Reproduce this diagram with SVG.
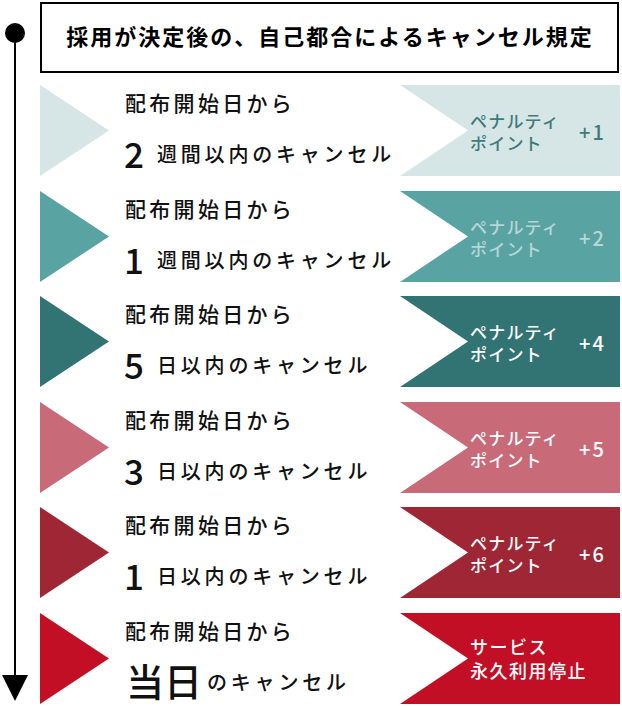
<svg xmlns="http://www.w3.org/2000/svg" width="622" height="706" viewBox="0 0 622 706">
<style>
text{font-family:"Noto Sans CJK JP","Noto Sans",sans-serif;}
.title{font-size:22px;font-weight:bold;letter-spacing:2px;fill:#000;}
.l1{font-size:21px;letter-spacing:3.3px;font-weight:500;fill:#111;}
.l2{font-size:20px;letter-spacing:3.8px;font-weight:500;fill:#111;}
.num{font-size:35px;font-weight:500;fill:#111;}
.big{font-size:38px;font-weight:500;fill:#111;}
.b{font-size:17px;letter-spacing:1.2px;font-weight:500;}
.p{font-size:20px;letter-spacing:2px;font-weight:500;}
.b6{font-size:18px;letter-spacing:1.5px;font-weight:500;}
</style>
<defs>
<polygon id="tri" points="40,0 109,45.5 40,91"/>
<polygon id="ban" points="400,0 620,0 620,91 400,91 468,45.5"/>
</defs>
<g id="timeline">
<circle cx="15" cy="33" r="10" fill="#000"/>
<line x1="15" y1="33" x2="15" y2="677" stroke="#000" stroke-width="2"/>
<polygon points="2,675 28,675 15,701" fill="#000"/>
</g>
<g id="title">
<rect x="41" y="3" width="577" height="69" fill="#fff" stroke="#000" stroke-width="2"/>
<text class="title" x="330" y="45" text-anchor="middle">採用が決定後の、自己都合によるキャンセル規定</text>
</g>
<g id="row1" transform="translate(0,85)">
<use href="#tri" fill="#d6e6e6"/>
<use href="#ban" fill="#d6e6e6"/>
<text class="l1" x="125" y="26">配布開始日から</text>
<text class="num" x="124" y="83">2</text>
<text class="l2" x="157" y="77">週間以内のキャンセル</text>
<text class="b" x="470" y="43" fill="#3e7b7c">ペナルティ</text>
<text class="b" x="470" y="65" fill="#3e7b7c">ポイント</text>
<text class="p" x="579" y="55" fill="#3e7b7c">+1</text>
</g>
<g id="row2" transform="translate(0,191)">
<use href="#tri" fill="#5aa3a3"/>
<use href="#ban" fill="#5aa3a3"/>
<text class="l1" x="125" y="26">配布開始日から</text>
<text class="num" x="124" y="83">1</text>
<text class="l2" x="157" y="77">週間以内のキャンセル</text>
<text class="b" x="470" y="43" fill="#b6d7d7">ペナルティ</text>
<text class="b" x="470" y="65" fill="#b6d7d7">ポイント</text>
<text class="p" x="579" y="55" fill="#b6d7d7">+2</text>
</g>
<g id="row3" transform="translate(0,296)">
<use href="#tri" fill="#327373"/>
<use href="#ban" fill="#327373"/>
<text class="l1" x="125" y="26">配布開始日から</text>
<text class="num" x="124" y="83">5</text>
<text class="l2" x="157" y="77">日以内のキャンセル</text>
<text class="b" x="470" y="43" fill="#fff">ペナルティ</text>
<text class="b" x="470" y="65" fill="#fff">ポイント</text>
<text class="p" x="579" y="55" fill="#fff">+4</text>
</g>
<g id="row4" transform="translate(0,402)">
<use href="#tri" fill="#c96a79"/>
<use href="#ban" fill="#c96a79"/>
<text class="l1" x="125" y="26">配布開始日から</text>
<text class="num" x="124" y="83">3</text>
<text class="l2" x="157" y="77">日以内のキャンセル</text>
<text class="b" x="470" y="43" fill="#fff">ペナルティ</text>
<text class="b" x="470" y="65" fill="#fff">ポイント</text>
<text class="p" x="579" y="55" fill="#fff">+5</text>
</g>
<g id="row5" transform="translate(0,507)">
<use href="#tri" fill="#9f2634"/>
<use href="#ban" fill="#9f2634"/>
<text class="l1" x="125" y="26">配布開始日から</text>
<text class="num" x="124" y="83">1</text>
<text class="l2" x="157" y="77">日以内のキャンセル</text>
<text class="b" x="470" y="43" fill="#fff">ペナルティ</text>
<text class="b" x="470" y="65" fill="#fff">ポイント</text>
<text class="p" x="579" y="55" fill="#fff">+6</text>
</g>
<g id="row6" transform="translate(0,613)">
<use href="#tri" fill="#c20f25"/>
<use href="#ban" fill="#c20f25"/>
<text class="l1" x="125" y="26">配布開始日から</text>
<text class="big" x="126" y="83">当日</text>
<text class="l2" x="207" y="77">のキャンセル</text>
<text class="b6" x="470" y="41" fill="#fff">サービス</text>
<text class="b6" x="470" y="65" fill="#fff">永久利用停止</text>
</g>
</svg>
